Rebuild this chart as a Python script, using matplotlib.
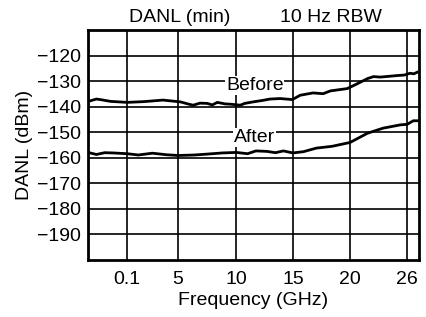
import matplotlib
matplotlib.use("Agg")
import matplotlib.pyplot as plt

plt.rcParams['font.family'] = ['Liberation Sans Narrow', 'Liberation Sans', 'DejaVu Sans']

# x positions are in "grid units" of the (non-uniform) frequency axis
tick_pos = [0, 0.91, 1.95, 2.96, 3.98, 5.0]
tick_labels = ["0.1", "5", "10", "15", "20", "26"]

before_x = [-0.66, -0.55, -0.48, -0.3, 0.0, 0.3, 0.64, 0.95, 1.1, 1.18, 1.3,
            1.43, 1.52, 1.61, 1.75, 1.84, 2.02, 2.1, 2.25, 2.4, 2.55, 2.73,
            2.95, 3.09, 3.32, 3.5, 3.63, 3.93, 4.11, 4.29, 4.4, 4.52, 4.82,
            4.95, 5.05, 5.12, 5.18]
before_y = [-137.7, -137.0, -137.2, -137.9, -138.3, -138.0, -137.4, -138.1,
            -139.0, -139.4, -138.6, -138.7, -139.3, -138.3, -138.9, -139.0,
            -139.4, -138.7, -138.1, -137.6, -137.0, -136.8, -137.2, -135.5,
            -134.6, -134.9, -133.8, -132.9, -131.0, -129.0, -128.2, -128.4,
            -127.8, -127.6, -126.9, -127.1, -126.5]

after_x = [-0.66, -0.55, -0.4, -0.25, 0.0, 0.2, 0.45, 0.7, 0.91, 1.2, 1.4,
           1.7, 1.95, 2.15, 2.3, 2.5, 2.65, 2.79, 2.96, 3.15, 3.38, 3.66,
           3.98, 4.29, 4.57, 4.88, 5.0, 5.11, 5.2]
after_y = [-158.1, -158.7, -158.0, -158.1, -158.4, -158.9, -158.2, -158.8,
           -159.1, -158.9, -158.6, -158.1, -157.9, -158.4, -157.3, -157.5,
           -158.0, -157.3, -158.1, -157.6, -156.2, -155.5, -154.0, -150.4,
           -148.4, -147.1, -146.9, -145.5, -145.5]

y_ticks = [-190, -180, -170, -160, -150, -140, -130, -120]

fig = plt.figure(figsize=(4.27, 3.17), dpi=100)
ax = fig.add_axes([0.206, 0.180, 0.775, 0.725])

ax.plot(before_x, before_y, color="black", lw=2.0, zorder=3)
ax.plot(after_x, after_y, color="black", lw=2.0, zorder=3)

ax.set_xlim(-0.70, 5.21)
ax.set_ylim(-200, -110)
ax.set_xticks(tick_pos)
ax.set_xticklabels(tick_labels)
ax.set_yticks(y_ticks)
ax.set_yticklabels([str(v).replace("-", "\u2212") for v in y_ticks])
ax.tick_params(length=0, labelsize=14)
ax.tick_params(axis="x", pad=8)
ax.tick_params(axis="y", pad=5)
ax.grid(True, color="black", lw=1.2)
ax.set_axisbelow(True)
for s in ax.spines.values():
    s.set_linewidth(2.0)

ax.text(2.28, -131.6, "Before", ha="center", va="center", fontsize=14,
        bbox=dict(facecolor="white", edgecolor="none", pad=0.5), zorder=2)
ax.text(2.28, -152, "After", ha="center", va="center", fontsize=14,
        bbox=dict(facecolor="white", edgecolor="none", pad=0.5), zorder=2)

ax.set_xlabel("Frequency (GHz)", fontsize=14, labelpad=3)
ax.set_ylabel("DANL (dBm)", fontsize=14, labelpad=3)
fig.text(0.42, 0.945, "DANL (min)", ha="center", va="center", fontsize=14)
fig.text(0.775, 0.945, "10 Hz RBW", ha="center", va="center", fontsize=14)

fig.savefig("out.png", dpi=100)
